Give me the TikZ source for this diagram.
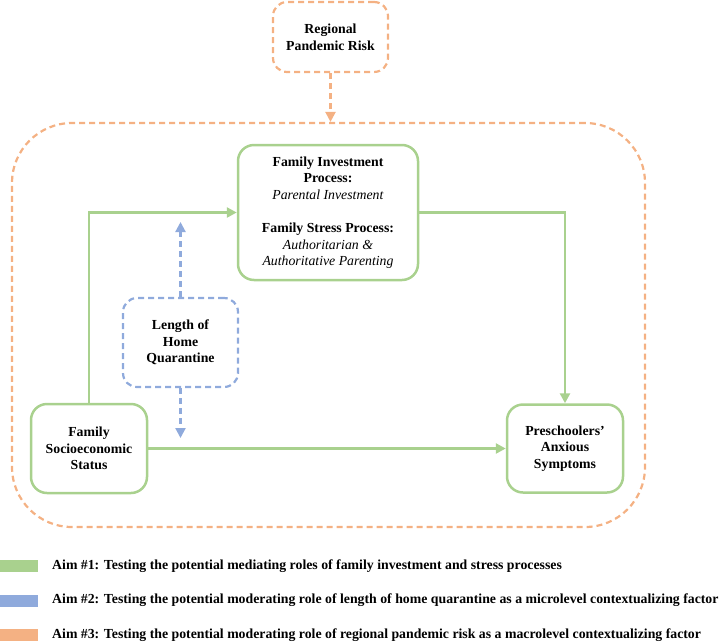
\documentclass[tikz,border=0pt]{standalone}
\usepackage{fontspec}
\setmainfont{Liberation Serif}
\usetikzlibrary{arrows.meta}
\definecolor{agreen}{HTML}{A9D18E}
\definecolor{ablue}{HTML}{8FAADC}
\definecolor{aorange}{HTML}{F4B183}
\begin{document}
\begin{tikzpicture}[x=1pt,y=-1pt,
  txt/.style={font=\fontsize{13.8}{16.6}\selectfont\bfseries, align=center, text=black},
  gbox/.style={txt, draw=agreen, line width=2.5pt, rounded corners=16pt, inner sep=0pt},
  dbox/.style={txt, line width=2.2pt, dash pattern=on 6pt off 4pt, rounded corners=14pt, inner sep=0pt},
  garrow/.style={draw=agreen, line width=2.5pt, -{Triangle[length=10pt,width=10pt]}},
  barrow/.style={draw=ablue, line width=2.2pt, dash pattern=on 6pt off 4pt, -{Triangle[length=10pt,width=10pt]}},
  oarrow/.style={draw=aorange, line width=2.2pt, dash pattern=on 6pt off 4pt, -{Triangle[length=10pt,width=10pt]}},
  legbox/.style={minimum width=38pt, minimum height=12pt, inner sep=0pt, anchor=west},
  legtxt/.style={font=\fontsize{13.8}{16.6}\selectfont\bfseries, anchor=west, inner sep=0pt}
]
\useasboundingbox (0,0) rectangle (722,643);

% big dashed container
\node[draw=aorange, line width=2.2pt, dash pattern=on 6pt off 4pt, rounded corners=60pt,
      minimum width=633pt, minimum height=404pt, inner sep=0pt] (big) at (328.5,325) {};

% regional pandemic risk
\node[dbox, draw=aorange, minimum width=115pt, minimum height=70pt] (rp) at (330.5,37)
  {Regional\\Pandemic Risk};

% family investment / stress process
\node[gbox, minimum width=180pt, minimum height=135pt] (fi) at (328,212.5)
  {Family Investment\\Process:\\\textmd{\itshape Parental Investment}\\[16.6pt]Family Stress Process:\\\textmd{\itshape Authoritarian \&}\\\textmd{\itshape Authoritative Parenting}};

% length of home quarantine
\node[dbox, draw=ablue, minimum width=115pt, minimum height=89pt] (lq) at (180.5,342.5)
  {Length of\\Home\\Quarantine};

% SES
\node[gbox, minimum width=116pt, minimum height=89pt] (ses) at (89,448.5)
  {Family\\Socioeconomic\\Status};

% anxious symptoms
\node[gbox, minimum width=116pt, minimum height=88pt] (pa) at (565,448.5)
  {Preschoolers'\\Anxious\\Symptoms};

\coordinate (upend) at (180.5,222);
\coordinate (dnend) at (180.5,438);

% connectors
\draw[oarrow] (rp.south) -- (rp.south |- big.north);
\draw[garrow] (ses.north) |- (fi.west);
\draw[garrow] (fi.east) -| (pa.north);
\draw[garrow] (ses.east) -- (pa.west);
\draw[barrow] (lq.north) -- (upend);
\draw[barrow] (lq.south) -- (dnend);

% legend
\node[legbox, fill=agreen] (l1) at (0,566) {};
\node[legbox, fill=ablue] (l2) at (0,600.5) {};
\node[legbox, fill=aorange] (l3) at (0,635) {};
\node[legtxt] (t1) at (52,566) {Aim \#1: Testing the potential mediating roles of family investment and stress processes};
\node[legtxt] (t2) at (52,600.5) {Aim \#2: Testing the potential moderating role of length of home quarantine as a microlevel contextualizing factor};
\node[legtxt] (t3) at (52,635) {Aim \#3: Testing the potential moderating role of regional pandemic risk as a macrolevel contextualizing factor};
\end{tikzpicture}
\end{document}
